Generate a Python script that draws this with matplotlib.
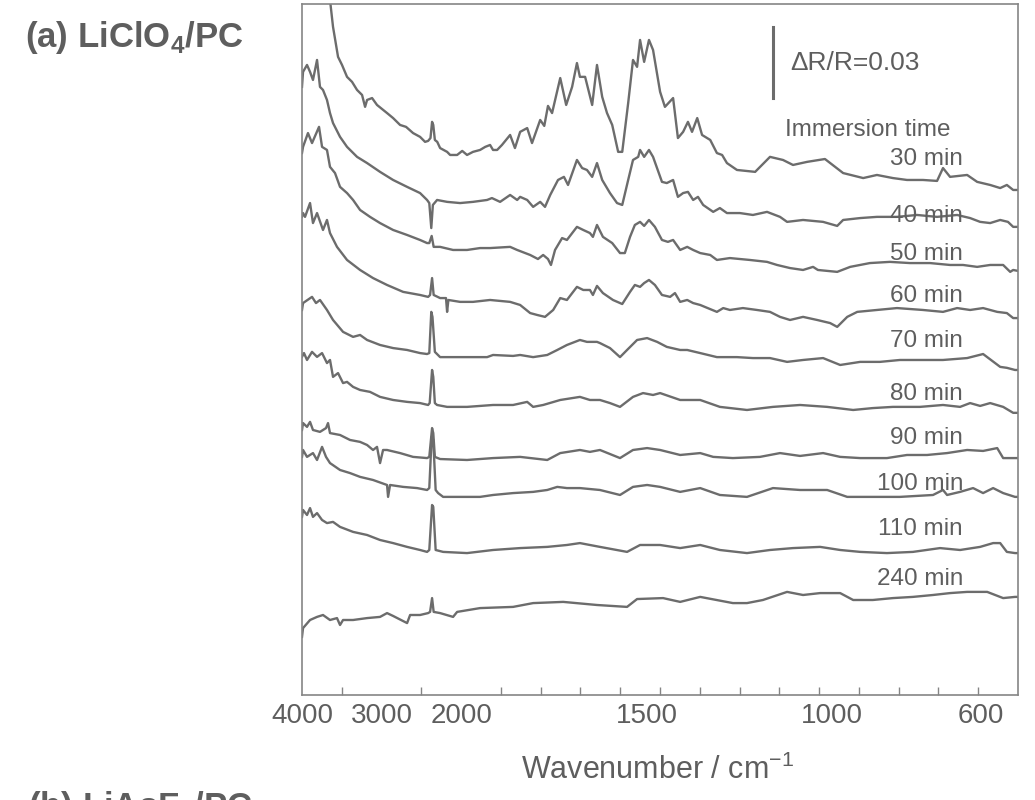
import numpy as np
import matplotlib
matplotlib.use("Agg")
import matplotlib.pyplot as plt

plt.rcParams['font.family'] = ['Liberation Sans', 'DejaVu Sans']
plt.rcParams['mathtext.fontset'] = 'custom'
plt.rcParams['mathtext.rm'] = 'Liberation Sans'
plt.rcParams['mathtext.bf'] = 'Liberation Sans:bold'

# immersion times, top to bottom
times = ["30 min", "40 min", "50 min", "60 min", "70 min",
         "80 min", "90 min", "100 min", "110 min", "240 min"]

# spectra: wavenumber (cm-1) and stacked dR/R (x 1e-3)
wn_30 = [4000, 3850, 3700, 3648, 3610, 3547, 3497, 3434, 3371, 3308, 3245, 3207, 3182, 3119, 3057,
         2931, 2855, 2767, 2692, 2604, 2516, 2453, 2415, 2385, 2365, 2350, 2330, 2300, 2264, 2176,
         2138, 2050, 1997, 1984, 1968, 1949, 1935, 1922, 1914, 1903, 1890, 1868, 1855, 1841, 1822,
         1809, 1787, 1776, 1766, 1755, 1733, 1717, 1701, 1688, 1680, 1666, 1647, 1634, 1620, 1607,
         1593, 1577, 1566, 1550, 1537, 1526, 1518, 1507, 1494, 1483, 1464, 1451, 1429, 1416, 1402,
         1389, 1378, 1364, 1351, 1329, 1311, 1297, 1284, 1257, 1208, 1168, 1133, 1106, 1068, 1020,
         971, 917, 880, 837, 799, 756, 718, 702, 683, 637, 610, 575, 548, 530, 513, 500]
dr_30 = [340, 318, 298, 291.9, 280.6, 268.0, 264.6, 259.6, 257.5, 254.1, 252.0, 247.0, 249.9, 250.7, 247.8,
         244.4, 242.3, 239.4, 238.6, 236.0, 234.4, 232.3, 232.7, 233.9, 240.7, 239.4, 233.1, 232.3, 229.7, 228.1,
         226.8, 226.8, 228.5, 226.8, 228.1, 228.9, 230.2, 231.0, 228.9, 228.9, 231.0, 235.2, 229.7, 236.5, 238.1,
         231.8, 241.5, 239.0, 247.4, 244.4, 259.1, 247.8, 255.4, 265.4, 259.6, 259.6, 247.8, 264.6, 251.2, 244.4,
         239.4, 228.1, 228.1, 248.6, 266.7, 263.8, 275.1, 265.9, 275.1, 270.9, 253.3, 247.0, 250.7, 233.9, 236.5,
         240.7, 236.5, 242.3, 235.2, 233.1, 227.6, 226.8, 223.4, 220.5, 219.7, 226.0, 224.7, 222.6, 223.9, 225.1,
         219.2, 217.1, 218.4, 217.1, 216.3, 216.3, 215.9, 221.3, 217.6, 218.4, 215.5, 214.2, 212.9, 214.2, 212.1, 212.1]

wn_40 = [4000, 3987, 3937, 3899, 3862, 3811, 3774, 3736, 3686, 3648, 3610, 3522, 3434, 3308, 3182,
         3019, 2855, 2679, 2516, 2428, 2400, 2375, 2355, 2302, 2176, 2013, 1968, 1930, 1917, 1895,
         1868, 1849, 1841, 1822, 1806, 1787, 1774, 1760, 1739, 1723, 1712, 1688, 1674, 1661, 1647,
         1634, 1620, 1599, 1580, 1566, 1550, 1537, 1523, 1518, 1507, 1494, 1483, 1459, 1446, 1429,
         1416, 1402, 1389, 1375, 1362, 1348, 1321, 1303, 1284, 1249, 1214, 1176, 1141, 1122, 1079,
         1025, 987, 971, 925, 880, 826, 772, 718, 664, 629, 602, 575, 548, 527, 513, 500]
dr_40 = [255.4, 261.7, 264.6, 261.7, 258.3, 266.7, 255.4, 254.1, 249.9, 244.4, 240.2, 234.4, 230.2, 226.0, 223.4,
         219.7, 216.3, 213.4, 210.8, 207.9, 206.6, 196.1, 205.8, 207.9, 207.1, 206.6, 207.1, 207.9, 208.7, 207.1,
         210.0, 207.9, 209.2, 207.9, 205.0, 207.1, 205.0, 210.0, 216.3, 217.6, 214.2, 224.7, 221.3, 220.5, 217.6,
         223.4, 216.3, 210.8, 206.6, 205.8, 216.3, 224.7, 226.0, 228.9, 226.0, 228.9, 226.0, 215.5, 215.0, 216.3,
         209.2, 210.8, 211.3, 207.9, 209.2, 205.8, 202.9, 204.5, 202.4, 202.4, 201.6, 202.9, 200.8, 198.7, 199.5,
         198.7, 197.0, 199.5, 200.3, 200.8, 200.8, 201.6, 200.8, 201.6, 200.3, 198.7, 198.2, 199.5, 198.7, 196.6, 196.6]

wn_50 = [4000, 3987, 3925, 3874, 3786, 3748, 3686, 3648, 3585, 3522, 3434, 3358, 3270, 3145, 3019,
         2855, 2679, 2516, 2428, 2400, 2370, 2345, 2264, 2101, 1984, 1949, 1922, 1868, 1849, 1814,
         1793, 1779, 1766, 1758, 1747, 1728, 1715, 1688, 1671, 1653, 1645, 1634, 1618, 1593, 1572,
         1559, 1545, 1532, 1518, 1507, 1494, 1478, 1459, 1443, 1429, 1410, 1391, 1375, 1356, 1329,
         1311, 1276, 1222, 1176, 1149, 1114, 1079, 1052, 1039, 987, 952, 899, 845, 791, 737,
         683, 648, 610, 575, 540, 521, 513, 500]
dr_50 = [227.6, 230.2, 236.0, 231.8, 238.6, 230.2, 228.9, 221.8, 219.2, 213.4, 210.8, 207.9, 203.7, 200.8, 198.2,
         195.3, 193.2, 191.1, 189.8, 189.8, 192.8, 188.2, 188.2, 186.9, 186.9, 187.7, 187.7, 188.2, 186.9, 184.8,
         183.1, 184.8, 183.1, 180.6, 186.9, 191.9, 191.1, 196.6, 195.3, 194.0, 192.4, 197.4, 192.4, 189.8, 185.6,
         185.6, 192.4, 197.4, 198.7, 197.0, 199.5, 196.6, 191.1, 190.3, 191.1, 186.9, 188.2, 186.9, 185.6, 184.8,
         182.7, 183.5, 182.7, 181.9, 180.6, 179.3, 178.5, 179.8, 178.5, 177.7, 179.8, 181.4, 181.9, 181.4, 181.4,
         180.6, 180.6, 179.8, 180.6, 180.6, 177.7, 178.5, 178.1]

wn_60 = [4000, 3987, 3962, 3899, 3862, 3811, 3736, 3686, 3648, 3560, 3434, 3270, 3107, 2931, 2729,
         2516, 2415, 2390, 2365, 2345, 2264, 2190, 2176, 2160, 2013, 1968, 1922, 1868, 1841, 1814,
         1795, 1774, 1752, 1733, 1715, 1688, 1671, 1653, 1645, 1634, 1618, 1591, 1566, 1545, 1532,
         1518, 1507, 1494, 1478, 1459, 1437, 1424, 1410, 1391, 1375, 1356, 1311, 1294, 1276, 1241,
         1203, 1168, 1141, 1114, 1079, 1041, 1006, 987, 960, 933, 880, 826, 756, 702, 664,
         629, 594, 556, 530, 513, 500]
dr_60 = [200.8, 202.4, 200.8, 206.6, 198.2, 202.4, 195.3, 199.5, 194.0, 188.2, 182.7, 178.5, 175.1, 172.2, 169.3,
         168.0, 167.2, 168.0, 175.1, 168.0, 166.7, 166.7, 160.9, 165.9, 165.1, 165.1, 165.9, 165.1, 163.8, 160.4,
         159.6, 158.8, 161.7, 166.7, 165.9, 171.4, 170.1, 170.1, 168.0, 171.8, 168.8, 165.9, 164.2, 169.3, 172.2,
         171.4, 173.0, 174.3, 172.2, 168.0, 167.2, 168.8, 165.1, 165.9, 164.6, 163.8, 160.9, 162.5, 161.7, 162.5,
         161.7, 160.9, 158.8, 157.5, 158.8, 157.5, 156.2, 154.6, 158.8, 160.9, 161.7, 162.5, 161.7, 160.9, 162.5,
         161.7, 162.5, 160.9, 160.4, 158.3, 158.3]

wn_70 = [4000, 3987, 3874, 3824, 3774, 3686, 3610, 3484, 3358, 3270, 3182, 3019, 2855, 2679, 2516,
         2428, 2400, 2375, 2360, 2330, 2264, 1984, 1930, 1914, 1860, 1841, 1806, 1768, 1741, 1715,
         1680, 1661, 1634, 1626, 1599, 1572, 1553, 1526, 1499, 1472, 1446, 1410, 1391, 1356, 1311,
         1257, 1214, 1168, 1122, 1079, 1025, 979, 925, 872, 818, 764, 702, 637, 594, 548,
         530, 508, 500]
dr_70 = [161.7, 164.6, 167.2, 164.6, 165.9, 161.7, 157.5, 152.5, 150.4, 151.2, 149.1, 147.0, 145.7, 144.9, 143.6,
         143.2, 143.6, 160.9, 158.8, 144.1, 141.9, 141.9, 141.9, 142.8, 142.4, 142.8, 141.9, 142.8, 144.9, 147.0,
         149.1, 148.3, 148.3, 147.8, 145.7, 141.9, 144.9, 149.1, 149.9, 148.3, 146.2, 144.9, 144.9, 143.6, 141.9,
         141.9, 141.5, 141.5, 139.9, 140.7, 141.5, 138.6, 139.9, 139.9, 140.7, 140.7, 140.7, 141.5, 143.2, 137.8,
         137.4, 136.5, 136.5]

wn_80 = [4000, 3975, 3937, 3874, 3811, 3748, 3686, 3648, 3610, 3547, 3484, 3434, 3358, 3270, 3145,
         3019, 2855, 2679, 2516, 2415, 2395, 2365, 2350, 2330, 2302, 2176, 1984, 1914, 1860, 1822,
         1806, 1779, 1733, 1680, 1653, 1626, 1599, 1572, 1537, 1510, 1483, 1464, 1410, 1356, 1303,
         1230, 1160, 1087, 1014, 944, 891, 837, 764, 702, 656, 629, 602, 575, 540, 513, 500]
dr_80 = [142.0, 143.6, 140.7, 144.1, 142.0, 143.6, 139.4, 140.7, 133.6, 135.2, 131.0, 131.5, 129.4, 128.1, 127.3,
         125.2, 123.9, 123.1, 122.6, 121.8, 122.6, 136.5, 133.6, 122.6, 121.8, 121.0, 121.0, 121.8, 121.8, 123.1,
         121.0, 121.8, 123.9, 125.2, 123.9, 123.9, 122.6, 121.0, 125.2, 126.8, 126.0, 126.8, 123.9, 123.9, 121.0,
         119.7, 121.0, 121.8, 121.0, 119.7, 120.5, 121.0, 121.0, 121.8, 121.0, 122.6, 121.4, 122.6, 121.0, 118.5, 118.5]

wn_90 = [4000, 3987, 3937, 3899, 3862, 3774, 3698, 3673, 3648, 3522, 3396, 3270, 3182, 3107, 3057,
         3019, 2981, 2931, 2767, 2604, 2428, 2400, 2365, 2350, 2330, 2264, 1984, 1914, 1841, 1768,
         1733, 1680, 1653, 1626, 1572, 1537, 1499, 1464, 1410, 1356, 1321, 1268, 1195, 1141, 1087,
         1025, 979, 925, 853, 799, 745, 691, 637, 594, 556, 540, 508, 500]
dr_90 = [111.3, 114.2, 112.6, 114.7, 111.3, 110.5, 112.1, 114.2, 110.0, 109.2, 107.1, 106.3, 105.0, 102.9, 104.2,
         97.4, 102.9, 102.9, 101.6, 100.0, 99.5, 100.0, 112.1, 110.0, 100.0, 99.1, 98.7, 99.5, 100.0, 98.7,
         101.6, 102.9, 102.1, 102.9, 99.5, 102.9, 103.7, 102.9, 100.8, 101.6, 100.0, 99.5, 100.0, 101.6, 100.4,
         101.6, 100.0, 99.5, 99.5, 100.8, 100.8, 101.6, 102.9, 102.5, 103.7, 99.5, 99.5, 99.5]

wn_100 = [4000, 3987, 3937, 3862, 3811, 3748, 3698, 3648, 3522, 3396, 3270, 3107, 2931, 2918, 2893,
          2729, 2553, 2428, 2400, 2370, 2350, 2320, 2289, 2226, 2013, 1949, 1914, 1860, 1806, 1768,
          1741, 1715, 1680, 1626, 1572, 1537, 1499, 1464, 1410, 1356, 1303, 1230, 1160, 1087, 1014,
          960, 891, 818, 729, 702, 691, 656, 621, 594, 567, 540, 508, 500]
dr_100 = [100.0, 102.9, 100.0, 101.6, 98.7, 104.2, 100.0, 97.4, 94.5, 93.2, 91.6, 90.3, 88.2, 83.2, 88.2,
          87.4, 86.9, 86.1, 86.9, 108.4, 107.1, 86.1, 84.8, 83.2, 83.2, 83.2, 84.0, 84.8, 85.3, 86.1,
          87.4, 86.9, 86.9, 86.1, 84.0, 87.4, 88.2, 87.4, 85.3, 86.9, 84.0, 83.2, 86.9, 86.1, 86.1,
          83.2, 83.2, 83.2, 84.0, 86.1, 84.0, 85.3, 86.9, 84.8, 86.9, 84.8, 83.2, 83.2]

wn_110 = [4000, 3987, 3937, 3899, 3862, 3811, 3748, 3686, 3610, 3522, 3358, 3182, 3019, 2855, 2679,
          2516, 2428, 2400, 2365, 2350, 2320, 2226, 1984, 1914, 1841, 1768, 1715, 1680, 1626, 1553,
          1518, 1464, 1410, 1356, 1303, 1230, 1168, 1106, 1033, 979, 925, 853, 783, 710, 656,
          602, 567, 548, 530, 508, 500]
dr_110 = [74.8, 77.7, 75.6, 78.5, 74.8, 76.4, 73.5, 72.2, 72.7, 70.6, 68.5, 67.2, 65.1, 63.8, 62.2,
          60.9, 60.1, 60.9, 79.8, 79.0, 60.9, 60.1, 59.6, 60.9, 61.7, 62.2, 63.0, 63.8, 62.2, 60.1,
          63.0, 63.0, 61.7, 63.0, 60.9, 59.6, 60.9, 61.7, 62.2, 60.9, 60.1, 59.6, 60.1, 61.7, 60.9,
          62.2, 63.8, 63.8, 60.1, 59.6, 59.6]

wn_240 = [4000, 3987, 3899, 3811, 3736, 3648, 3560, 3522, 3484, 3358, 3182, 3019, 2931, 2855, 2679,
          2641, 2516, 2415, 2390, 2365, 2345, 2264, 2101, 2050, 1949, 1860, 1806, 1725, 1634, 1553,
          1526, 1456, 1410, 1356, 1268, 1230, 1187, 1122, 1079, 1033, 979, 944, 891, 837, 783,
          729, 683, 637, 583, 540, 508, 500]
dr_240 = [24.4, 28.1, 31.5, 32.8, 33.6, 31.5, 32.3, 29.4, 31.5, 31.5, 32.3, 32.8, 34.4, 33.2, 30.2,
          33.6, 33.6, 34.4, 34.9, 40.7, 34.9, 34.4, 32.8, 34.9, 36.5, 37.0, 38.6, 39.1, 37.8, 37.0,
          40.3, 40.7, 39.1, 41.2, 38.6, 38.6, 39.9, 43.3, 42.0, 42.8, 42.8, 39.9, 39.9, 40.7, 41.2,
          42.0, 42.8, 43.3, 43.3, 40.7, 41.2, 41.2]

spectra = [(wn_30, dr_30), (wn_40, dr_40), (wn_50, dr_50), (wn_60, dr_60), (wn_70, dr_70),
           (wn_80, dr_80), (wn_90, dr_90), (wn_100, dr_100), (wn_110, dr_110), (wn_240, dr_240)]

tick_wn = [4000, 3000, 2000, 1500, 1000, 600]
scale_bar = 30  # dR/R = 0.03 in units of 1e-3

# layout
label_wn = 648
label_base = [222.6, 198.7, 182.7, 165.1, 146.0, 123.9, 105.4, 86.1, 67.2, 46.2]

line_col = '#6c6c6c'
text_col = '#5e5e5e'
frame_col = '#858585'


def fwd(w):
    return np.interp(w, [500, 2000, 4000], [0, 14, 18])


def inv(u):
    return np.interp(u, [0, 14, 18], [500, 2000, 4000])


fig = plt.figure(figsize=(10.35, 8), dpi=100)
ax = fig.add_axes([302 / 1035, 105 / 800, 716 / 1035, 691 / 800])
ax.set_xscale('function', functions=(fwd, inv))

for w, r in spectra:
    ax.plot(w, r, color=line_col, lw=1.7, solid_joinstyle='round')

ax.set_xlim(4000, 500)
ax.set_ylim(0, 290.2)

ax.set_xticks(tick_wn)
ax.set_xticklabels([str(t) for t in tick_wn])
ax.set_xticks(inv(np.arange(1, 18)), minor=True)
ax.tick_params(axis='x', which='major', length=0, pad=6, labelsize=20, labelcolor=text_col)
ax.tick_params(axis='x', which='minor', direction='in', length=6, width=1, color=frame_col)
ax.set_yticks([])
for s in ax.spines.values():
    s.set_color(frame_col)
    s.set_linewidth(1.2)

for t, yb in zip(times, label_base):
    ax.text(label_wn, yb, t, ha='right', va='baseline', fontsize=17.5, color=text_col)
ax.text(904, 234.6, "Immersion time", ha='center', va='baseline', fontsize=17.5, color=text_col)

# scale bar
ax.plot([1160, 1160], [250.7, 250.7 + scale_bar], color=line_col, lw=2.2)
ax.text(1114, 262.5, "\u0394R/R=0.03", ha='left', va='baseline', fontsize=19, color=text_col)

fig.text(658 / 1035, 1 - 779 / 800, "Wavenumber / cm$^{-1}$", ha='center', va='baseline',
         fontsize=22, color=text_col)
fig.text(25 / 1035, 1 - 47 / 800, r"(a) LiClO$_\mathbf{4}$/PC", ha='left', va='baseline',
         fontsize=25, fontweight='bold', color=text_col)
# next panel's title, cut by the bottom edge as in the source page
fig.text(28 / 1035, 1 - 817 / 800, r"(b) LiAsF$_\mathbf{6}$/PC", ha='left', va='baseline',
         fontsize=25, fontweight='bold', color=text_col)

fig.savefig("out.png", dpi=100, facecolor='white')
